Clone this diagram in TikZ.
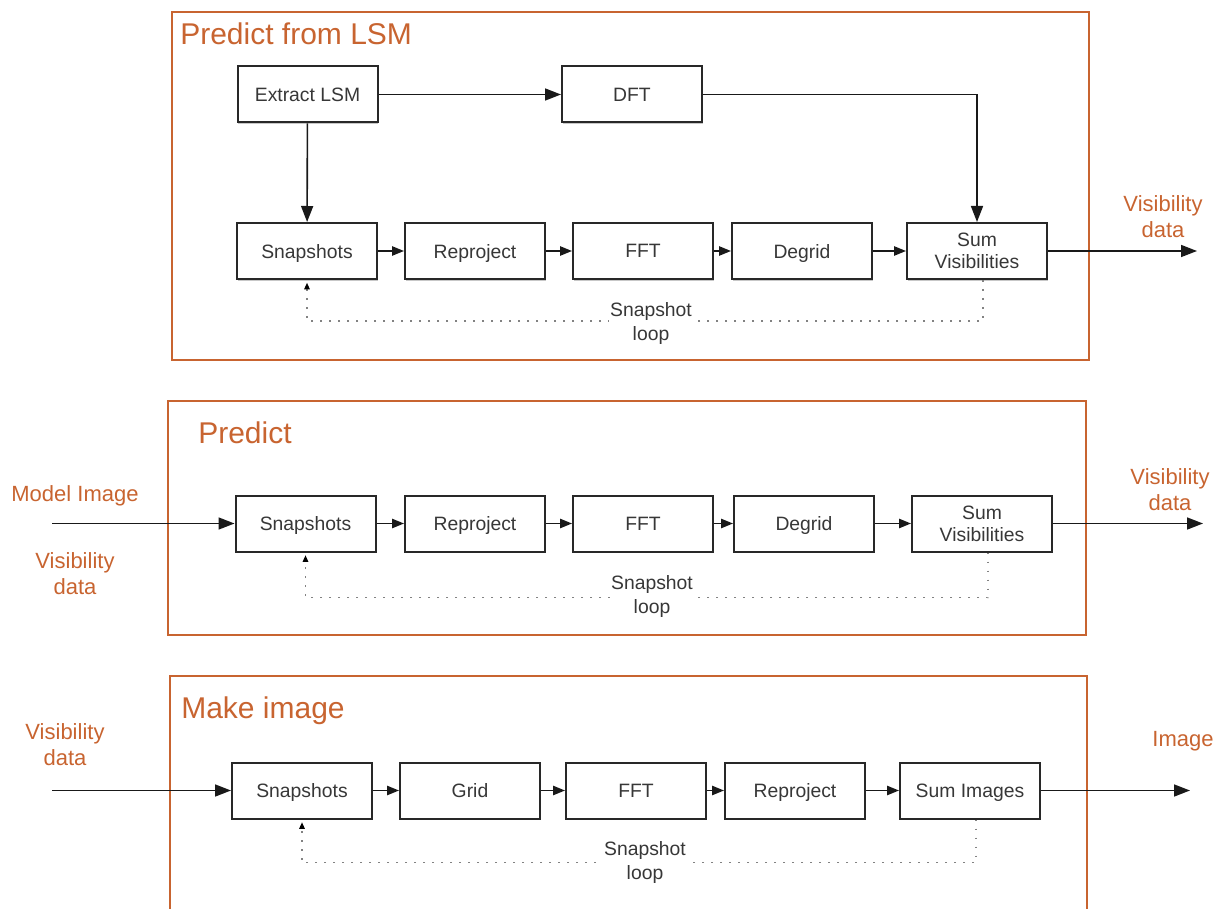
\documentclass[tikz,border=0pt]{standalone}
\usepackage{fontspec}
\setmainfont{Liberation Sans}
\usetikzlibrary{arrows.meta,shadows}
\definecolor{rust}{RGB}{200,100,48}
\definecolor{boxline}{RGB}{40,40,40}
\definecolor{boxtext}{RGB}{55,55,55}
\definecolor{loopgray}{RGB}{130,130,130}

\begin{document}
\begin{tikzpicture}[x=0.75pt,y=-0.75pt,
  stage/.style={draw=boxline, line width=1.5pt, fill=white,
    minimum width=105pt, minimum height=42pt, inner sep=0pt, align=center,
    text depth=0pt,
    font=\fontsize{14.5}{16.5}\selectfont, text=boxtext,
    drop shadow={shadow xshift=0.4pt, shadow yshift=-1.4pt, opacity=0.22, fill=black}},
  frame/.style={draw=rust, line width=1.2pt},
  title/.style={anchor=base west, text=rust, inner sep=0pt,
    font=\fontsize{22.5}{26}\selectfont},
  io/.style={text=rust, align=center, inner sep=0pt,
    font=\fontsize{16.5}{19.5}\selectfont},
  flow/.style={draw=black!90, line width=1.2pt, -{Triangle[length=9pt,width=7pt]}},
  bigflow/.style={draw=black!90, line width=1.2pt, -{Triangle[length=12pt,width=9pt]}},
  loopline/.style={draw=loopgray, line width=1.3pt, dash pattern=on 1.2pt off 5.55pt,
    -{Triangle[length=5pt,width=4pt,color=black]}, shorten >=2pt},
  looplabel/.style={fill=white, inner sep=1pt, align=center, text=boxtext,
    font=\fontsize{14.5}{18}\selectfont}
]
\useasboundingbox (0,0) rectangle (1225,909);

% ---------- frames and titles ----------
\draw[frame] (172,12) rectangle (1089,360);
\draw[frame] (168,401) rectangle (1086,635);
\draw[frame] (170,909) -- (170,676) -- (1087,676) -- (1087,909);

\node[title] (t1) at (180,45) {Predict from LSM};
\node[title] (t2) at (198,443) {Predict};
\node[title] (t3) at (181,718) {Make image};

% ---------- predict from LSM ----------
\node[stage] (ex)  at (307.5,94.5) {Extract LSM};
\node[stage] (dft) at (632,94.5) {DFT};
\node[stage] (sn1) at (307,251) {Snapshots};
\node[stage] (rp1) at (475,251) {Reproject};
\node[stage] (ff1) at (643,251) {FFT};
\node[stage] (dg1) at (802,251) {Degrid};
\node[stage] (sv1) at (977,251) {Sum\\Visibilities};
\coordinate (out1) at (1197,251);

\draw[bigflow] (ex) -- (dft);
\draw[bigflow] (ex) -- (sn1);
\draw[bigflow] (dft.east) -| (sv1.north);
\draw[flow] (sn1) -- (rp1);
\draw[flow] (rp1) -- (ff1);
\draw[flow] (ff1) -- (dg1);
\draw[flow] (dg1) -- (sv1);
\draw[bigflow] (sv1) -- (out1);
\node[io] (o1) at (1163,217) {Visibility\\data};

\draw[loopline] ([xshift=4.5pt]sv1.south) -- ++(0,41) -| (sn1.south);
\node[looplabel] (l1) at (651,324) {Snapshot\\loop};

% ---------- predict ----------
\node[stage] (sn2) at (305.5,523.5) {Snapshots};
\node[stage] (rp2) at (475,523.5) {Reproject};
\node[stage] (ff2) at (643,523.5) {FFT};
\node[stage] (dg2) at (804,523.5) {Degrid};
\node[stage] (sv2) at (982,523.5) {Sum\\Visibilities};
\coordinate (in2) at (52,523.5);
\coordinate (out2) at (1203,523.5);

\draw[bigflow] (in2) -- (sn2);
\draw[flow] (sn2) -- (rp2);
\draw[flow] (rp2) -- (ff2);
\draw[flow] (ff2) -- (dg2);
\draw[flow] (dg2) -- (sv2);
\draw[bigflow] (sv2) -- (out2);
\node[io] (m2) at (75,496) {Model Image};
\node[io] (v2) at (75,574) {Visibility\\data};
\node[io] (o2) at (1170,490) {Visibility\\data};

\draw[loopline] ([xshift=4.5pt]sv2.south) -- ++(0,45) -| (sn2.south);
\node[looplabel] (l2) at (652,596) {Snapshot\\loop};

% ---------- make image ----------
\node[stage] (sn3) at (302,790.5) {Snapshots};
\node[stage] (gr3) at (470,790.5) {Grid};
\node[stage] (ff3) at (636,790.5) {FFT};
\node[stage] (rp3) at (795,790.5) {Reproject};
\node[stage] (si3) at (970,790.5) {Sum Images};
\coordinate (in3) at (52,790.5);
\coordinate (out3) at (1190,790.5);

\draw[bigflow] (in3) -- (sn3);
\draw[flow] (sn3) -- (gr3);
\draw[flow] (gr3) -- (ff3);
\draw[flow] (ff3) -- (rp3);
\draw[flow] (rp3) -- (si3);
\draw[bigflow] (si3) -- (out3);
\node[io] (v3) at (65,745) {Visibility\\data};
\node[io] (o3) at (1183,741) {Image};

\draw[loopline] ([xshift=4.5pt]si3.south) -- ++(0,43) -| (sn3.south);
\node[looplabel] (l3) at (645,862) {Snapshot\\loop};
\end{tikzpicture}
\end{document}
